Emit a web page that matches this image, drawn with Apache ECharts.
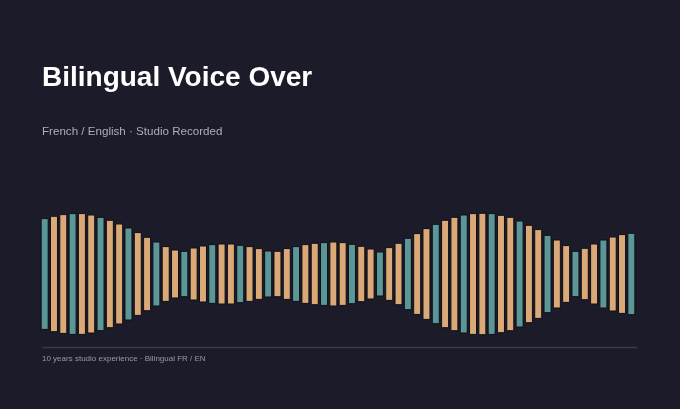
<!DOCTYPE html>
<html>
<head>
<meta charset="utf-8">
<title>Bilingual Voice Over</title>
<script src="https://cdn.jsdelivr.net/npm/echarts@6/dist/echarts.min.js"></script>
<style>
  html, body { margin: 0; padding: 0; background: #1c1b29; }
  #chart { width: 680px; height: 409px; }
</style>
</head>
<body>
<div id="chart"></div>
<script>
// half height of each waveform bar (mirrored above and below the centre line)
var amplitudes = [
    55.4, 57.7, 59.4, 60.4, 60.4, 59.0, 56.7, 53.7, 50.0, 46.0,
    41.4, 36.7, 32.0, 27.4, 24.0, 22.7, 26.0, 28.0, 29.4, 30.0,
    30.0, 28.7, 27.4, 25.4, 23.0, 22.7, 25.4, 27.4, 29.4, 30.7,
    31.4, 32.0, 31.4, 29.7, 27.7, 25.0, 22.0, 26.4, 30.7, 35.7,
    40.4, 45.4, 49.7, 53.7, 56.7, 59.0, 60.4, 60.7, 60.4, 58.7,
    56.7, 53.0, 48.7, 44.4, 38.7, 34.0, 28.4, 22.7, 25.7, 30.0,
    34.0, 37.0, 39.4, 40.7
];
var bars = amplitudes.map(function (v, i) { return i; });

var titleText = 'Bilingual Voice Over';
var subText = 'French / English \u00b7 Studio Recorded';
var footerText = '10 years studio experience \u00b7 Bilingual FR / EN';

var teal = '#5b9797';
var sand = '#dba977';

var myChart = echarts.init(document.getElementById('chart'));

var option = {
    backgroundColor: '#1c1b29',
    animation: false,
    title: {
        text: titleText,
        subtext: subText,
        left: 37,
        top: 59,
        itemGap: 34,
        textStyle: {
            color: '#ffffff',
            fontSize: 28,
            fontWeight: 'bold',
            fontFamily: 'Liberation Sans'
        },
        subtextStyle: {
            color: '#aeaeb8',
            fontSize: 11.6,
            fontFamily: 'Liberation Sans'
        }
    },
    grid: { left: 40, right: 44, top: 204, bottom: 65 },
    xAxis: {
        type: 'category',
        data: bars,
        show: false
    },
    yAxis: {
        type: 'value',
        min: -70,
        max: 70,
        show: false
    },
    graphic: [
        {
            type: 'line',
            shape: { x1: 42, y1: 347.5, x2: 637, y2: 347.5 },
            style: { stroke: '#3b3a4a', lineWidth: 1.3 }
        },
        {
            type: 'text',
            left: 42,
            top: 355,
            style: {
                text: footerText,
                fill: '#9a9aa6',
                fontSize: 8,
                fontFamily: 'Liberation Sans'
            }
        }
    ],
    series: [
        {
            type: 'custom',
            data: amplitudes.map(function (v, i) { return [i, v]; }),
            renderItem: function (params, api) {
                var i = api.value(0);
                var h = api.value(1);
                var top = api.coord([i, h]);
                var bottom = api.coord([i, -h]);
                var w = 7;
                return {
                    type: 'rect',
                    shape: {
                        x: top[0] - w / 2,
                        y: top[1],
                        width: w,
                        height: bottom[1] - top[1]
                    },
                    style: {
                        fill: i % 3 === 0 ? teal : sand,
                        stroke: '#0f0f17',
                        lineWidth: 1
                    }
                };
            }
        }
    ]
};

myChart.setOption(option);
window.addEventListener('resize', function () { myChart.resize(); });
</script>
</body>
</html>
